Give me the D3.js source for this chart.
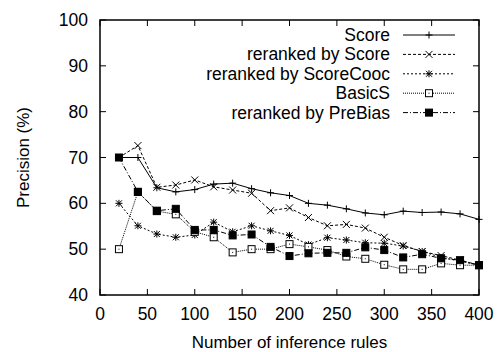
<!DOCTYPE html>
<html lang="en">
<head>
<meta charset="UTF-8" />
<title>Precision vs inference rules</title>
<script src="https://d3js.org/d3.v7.min.js"></script>
<style>
  body { margin: 0; background: #fff; }
  svg text { font-family: "Liberation Sans", Arial, sans-serif; fill: #000; }
</style>
</head>
<body>
<svg width="497" height="352"></svg>
<script>
const rules = [20, 40, 60, 80, 100, 120, 140, 160, 180, 200, 220, 240, 260, 280, 300, 320, 340, 360, 380, 400];
const score = [70, 70, 63.4, 62.5, 63, 64.2, 64.4, 63.2, 62.3, 61.7, 60, 59.6, 58.8, 57.9, 57.5, 58.3, 58, 58.1, 57.7, 56.5];
const rerankScore = [70, 72.6, 63.5, 64, 65.1, 63.6, 62.9, 62.2, 58.4, 59, 56.9, 55.1, 55.4, 54.6, 52.6, 50.8, 49.5, 48.6, 47.6, 46.5];
const rerankCooc = [60, 55.1, 53.3, 52.6, 53.1, 55.9, 53.8, 55.1, 54, 53, 51, 52.5, 52, 51.4, 51.3, 50.7, 49.5, 48.2, 47.4, 46.5];
const basicS = [50, 62.5, 58.3, 57.6, 53.8, 52.6, 49.3, 50, 50, 51.1, 50.5, 49.8, 48.4, 47.9, 46.6, 45.6, 45.6, 46.9, 46.5, 46.5];
const preBias = [70, 62.5, 58.4, 58.8, 54.2, 54.2, 53, 53.2, 50.5, 48.5, 49.1, 49.2, 49.2, 50.4, 49.8, 48.2, 48.9, 48, 47.6, 46.5];
const seriesNames = ["Score", "reranked by Score", "reranked by ScoreCooc", "BasicS", "reranked by PreBias"];
const xTicks = [0, 50, 100, 150, 200, 250, 300, 350, 400];
const yTicks = [40, 50, 60, 70, 80, 90, 100];

const series = [
  { name: seriesNames[0], values: score, dash: null, mark: "plus" },
  { name: seriesNames[1], values: rerankScore, dash: "3,2", mark: "cross" },
  { name: seriesNames[2], values: rerankCooc, dash: "2,2", mark: "star" },
  { name: seriesNames[3], values: basicS, dash: "1,1", mark: "open" },
  { name: seriesNames[4], values: preBias, dash: "5,2,1,2", mark: "filled" }
];

const svg = d3.select("svg");
const m = { left: 100, right: 479, top: 20, bottom: 295 };
const x = d3.scaleLinear().domain([0, 400]).range([m.left, m.right]);
const y = d3.scaleLinear().domain([40, 100]).range([m.bottom, m.top]);

// inward ticks on all four sides
const tick = 6;
const axes = svg.append("g").attr("stroke", "#000").attr("stroke-width", 1);
xTicks.forEach(t => {
  axes.append("line").attr("x1", x(t)).attr("x2", x(t)).attr("y1", m.bottom).attr("y2", m.bottom - tick);
  axes.append("line").attr("x1", x(t)).attr("x2", x(t)).attr("y1", m.top).attr("y2", m.top + tick);
});
yTicks.forEach(t => {
  axes.append("line").attr("x1", m.left).attr("x2", m.left + tick).attr("y1", y(t)).attr("y2", y(t));
  axes.append("line").attr("x1", m.right).attr("x2", m.right - tick).attr("y1", y(t)).attr("y2", y(t));
});

svg.append("g").selectAll("text").data(xTicks).join("text")
  .attr("x", d => x(d)).attr("y", 320)
  .attr("text-anchor", "middle").attr("font-size", 17.5)
  .text(d => d);
svg.append("g").selectAll("text").data(yTicks).join("text")
  .attr("x", 88).attr("y", d => y(d) + 6)
  .attr("text-anchor", "end").attr("font-size", 17.5)
  .text(d => d);

svg.append("text").attr("x", (m.left + m.right) / 2).attr("y", 348)
  .attr("text-anchor", "middle").attr("font-size", 17)
  .text("Number of inference rules");
svg.append("text").attr("transform", `translate(29,${(m.top + m.bottom) / 2}) rotate(-90)`)
  .attr("text-anchor", "middle").attr("font-size", 17)
  .text("Precision (%)");

function drawMark(g, type, cx, cy) {
  const s = 3.5;
  if (type === "plus" || type === "star") {
    g.append("line").attr("x1", cx - s).attr("x2", cx + s).attr("y1", cy).attr("y2", cy);
    g.append("line").attr("x1", cx).attr("x2", cx).attr("y1", cy - s).attr("y2", cy + s);
  }
  if (type === "cross" || type === "star") {
    const c = type === "star" ? 3 : s;
    g.append("line").attr("x1", cx - c).attr("x2", cx + c).attr("y1", cy - c).attr("y2", cy + c);
    g.append("line").attr("x1", cx - c).attr("x2", cx + c).attr("y1", cy + c).attr("y2", cy - c);
  }
  if (type === "open") {
    g.append("rect").attr("x", cx - 3.5).attr("y", cy - 3.5).attr("width", 7).attr("height", 7)
      .attr("fill", "#fff");
    g.append("rect").attr("x", cx - 0.5).attr("y", cy - 0.5).attr("width", 1).attr("height", 1)
      .attr("fill", "#000").attr("stroke", "none");
  }
  if (type === "filled") {
    g.append("rect").attr("x", cx - 3.5).attr("y", cy - 3.5).attr("width", 7).attr("height", 7)
      .attr("fill", "#000");
  }
}

const line = d3.line().x(d => x(d[0])).y(d => y(d[1]));
const plot = svg.append("g");
series.forEach(s => {
  const pts = rules.map((r, i) => [r, s.values[i]]);
  plot.append("path").datum(pts).attr("d", line)
    .attr("fill", "none").attr("stroke", "#000").attr("stroke-width", 1)
    .attr("stroke-dasharray", s.dash);
  const g = plot.append("g").attr("stroke", "#000").attr("stroke-width", 1);
  pts.forEach(p => drawMark(g, s.mark, x(p[0]), y(p[1])));
});

// legend
const legend = svg.append("g");
series.forEach((s, i) => {
  const ly = 35 + i * 19.4;
  legend.append("text").attr("x", 390).attr("y", ly + 6)
    .attr("text-anchor", "end").attr("font-size", 17.5).text(s.name);
  legend.append("line").attr("x1", 403).attr("x2", 455).attr("y1", ly).attr("y2", ly)
    .attr("stroke", "#000").attr("stroke-width", 1).attr("stroke-dasharray", s.dash);
  const g = legend.append("g").attr("stroke", "#000").attr("stroke-width", 1);
  drawMark(g, s.mark, 429, ly);
});

svg.append("rect").attr("x", m.left).attr("y", m.top)
  .attr("width", m.right - m.left).attr("height", m.bottom - m.top)
  .attr("fill", "none").attr("stroke", "#000").attr("stroke-width", 1.5);
</script>
</body>
</html>
